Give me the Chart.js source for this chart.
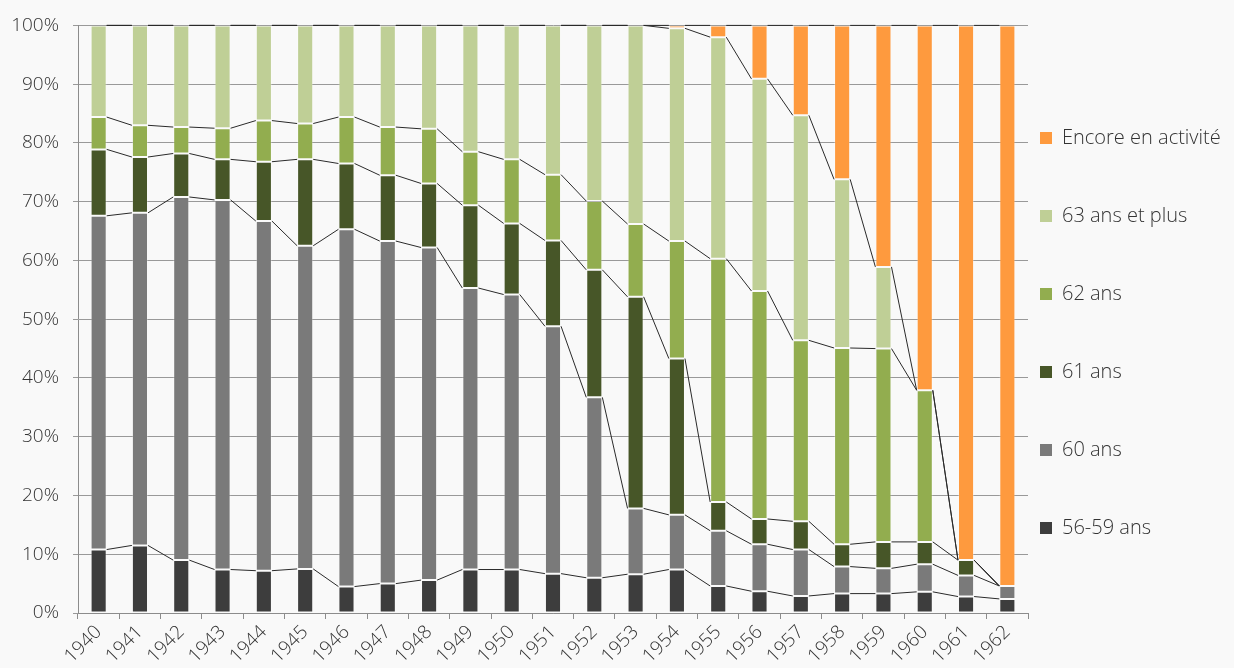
<!DOCTYPE html>
<html lang="fr">
<head>
<meta charset="utf-8">
<title>Répartition par âge de départ, générations 1940-1962</title>
<script src="https://cdn.jsdelivr.net/npm/chart.js@4.4.1/dist/chart.umd.min.js"></script>
<style>
  html, body { margin: 0; padding: 0; background: #f9f9f9; }
  #wrap { position: relative; width: 1234px; height: 668px; }
</style>
</head>
<body>
<div id="wrap"><canvas id="chart"></canvas></div>
<script>
// Générations
const generations = ['1940','1941','1942','1943','1944','1945','1946','1947','1948','1949','1950','1951',
  '1952','1953','1954','1955','1956','1957','1958','1959','1960','1961','1962'];

// Parts (%) par âge de départ
const age56_59 = [10.8, 11.5, 9.0, 7.4, 7.2, 7.5, 4.5, 5.0, 5.6, 7.4, 7.4, 6.7, 6.0, 6.6, 7.4, 4.6, 3.7, 2.9, 3.3, 3.3, 3.6, 2.8, 2.4];
const age60    = [56.8, 56.6, 61.8, 62.9, 59.5, 55.0, 60.8, 58.3, 56.6, 47.9, 46.8, 42.1, 30.7, 11.2, 9.3, 9.4, 8.0, 7.9, 4.6, 4.3, 4.7, 3.6, 2.2];
const age61    = [11.3, 9.5, 7.4, 6.9, 10.1, 14.7, 11.2, 11.2, 10.9, 14.1, 12.1, 14.6, 21.7, 36.0, 26.6, 4.9, 4.3, 4.8, 3.8, 4.5, 3.8, 2.6, 0];
const age62    = [5.5, 5.4, 4.5, 5.3, 7.0, 6.1, 7.9, 8.2, 9.3, 9.1, 10.9, 11.2, 11.7, 12.4, 20.0, 41.4, 38.8, 30.8, 33.4, 32.9, 25.8, 0, 0];
const age63plus = [15.6, 17.0, 17.3, 17.5, 16.2, 16.7, 15.6, 17.3, 17.6, 21.5, 22.8, 25.4, 29.9, 33.8, 36.2, 37.7, 36.1, 38.3, 28.7, 13.9, 0, 0, 0];
const enActivite = [0, 0, 0, 0, 0, 0, 0, 0, 0, 0, 0, 0, 0, 0, 0.5, 2.0, 9.1, 15.3, 26.2, 41.1, 62.1, 91.0, 95.4];

// Graduations de l'axe vertical
const yTicks = [0, 10, 20, 30, 40, 50, 60, 70, 80, 90, 100];

const FONT = '"Open Sans", Lato, sans-serif';
const TEXT = '#333333';

// Lignes de liaison entre les sommets de chaque série (d'une barre à la suivante)
const seriesLines = {
  id: 'seriesLines',
  afterDatasetsDraw(chart) {
    const ctx = chart.ctx;
    ctx.save();
    ctx.strokeStyle = '#2a2a2a';
    ctx.lineWidth = 1;
    chart.data.datasets.forEach((ds, di) => {
      const meta = chart.getDatasetMeta(di);
      if (meta.hidden) return;
      ctx.beginPath();
      for (let i = 0; i < meta.data.length - 1; i++) {
        const a = meta.data[i], b = meta.data[i + 1];
        ctx.moveTo(a.x + a.width / 2, a.y);
        ctx.lineTo(b.x - b.width / 2, b.y);
      }
      ctx.stroke();
    });
    ctx.restore();
  }
};

function barSet(label, data, color) {
  return {
    label, data,
    backgroundColor: color,
    borderColor: 'rgba(255,255,255,0.28)',
    borderWidth: 1,
    borderSkipped: false,
    categoryPercentage: 1,
    barPercentage: 0.39
  };
}

new Chart(document.getElementById('chart'), {
  type: 'bar',
  data: {
    labels: generations,
    datasets: [
      barSet('56-59 ans', age56_59, '#3d3d3d'),
      barSet('60 ans', age60, '#7a7a7a'),
      barSet('61 ans', age61, '#475628'),
      barSet('62 ans', age62, '#92ad4f'),
      barSet('63 ans et plus', age63plus, '#bfcf96'),
      barSet('Encore en activité', enActivite, '#fe9a3e')
    ]
  },
  options: {
    responsive: true,
    maintainAspectRatio: false,
    animation: false,
    layout: { padding: { top: 23, right: 4, bottom: 0, left: 0 } },
    plugins: {
      tooltip: { enabled: false },
      legend: {
        position: 'right',
        align: 'center',
        reverse: true,
        maxWidth: 202,
        title: { display: true, text: '', padding: 0, font: { size: 10, lineHeight: 2.1 } },
        labels: {
          boxWidth: 12,
          boxHeight: 12,
          padding: 12,
          color: TEXT,
          font: { family: FONT, size: 20, weight: 300, lineHeight: 66 / 20 },
          generateLabels(chart) {
            const items = Chart.defaults.plugins.legend.labels.generateLabels(chart);
            return items.map(it => Object.assign(it, { text: [it.text], lineWidth: 0 }));
          }
        }
      }
    },
    scales: {
      x: {
        stacked: true,
        offset: true,
        afterFit(scale) { scale.height = 55; },
        grid: { display: true, drawOnChartArea: false, drawTicks: true, tickLength: 6, color: '#8c8c8c', offset: true },
        border: { display: true, color: '#8c8c8c' },
        ticks: {
          color: TEXT, minRotation: 45, maxRotation: 45, padding: 2,
          font: { family: FONT, size: 19, weight: 300 }
        }
      },
      y: {
        stacked: true,
        min: 0, max: 100,
        afterFit(scale) { scale.width = 78; },
        afterBuildTicks(scale) { scale.ticks = yTicks.map(v => ({ value: v })); },
        grid: { color: '#999999', tickLength: 5, drawTicks: true },
        border: { display: true, color: '#8c8c8c' },
        ticks: {
          color: TEXT, padding: 14,
          font: { family: FONT, size: 19, weight: 300 },
          callback: v => v + '%'
        }
      }
    }
  },
  plugins: [seriesLines]
});
</script>
</body>
</html>
